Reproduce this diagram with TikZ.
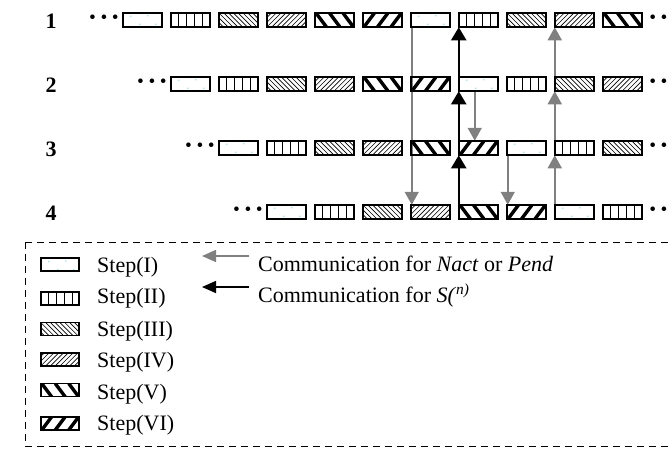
\documentclass[tikz,border=0pt]{standalone}
\usepackage{fontspec}
\setmainfont{Liberation Serif}
\usetikzlibrary{arrows.meta,backgrounds}
\definecolor{arrgray}{HTML}{808080}
\definecolor{dotcyan}{HTML}{A8E0E8}
\begin{document}
\begin{tikzpicture}[x=1pt,y=-1pt,
  font=\fontsize{22}{26}\selectfont,
  cell/.style={draw, line width=1.7pt, minimum width=39.5pt, minimum height=14.5pt, inner sep=0pt, outer sep=0pt},
  st1/.style={cell, path picture={\foreach \dx/\dy in {8/3.5,25/3,17/11.5,33/11.5} \fill[dotcyan] ([shift={(\dx pt,-\dy pt)}]path picture bounding box.north west) circle (0.8pt);}},
  st2/.style={cell, path picture={\foreach \k in {1,...,4} \draw[line width=1.4pt] ([xshift=\k*7.9pt]path picture bounding box.north west) -- ([xshift=\k*7.9pt]path picture bounding box.south west);}},
  st3/.style={cell, path picture={\foreach \k in {-4,...,9} \draw[line width=0.65pt] ([xshift=\k*4.8pt]path picture bounding box.north west) -- ++(16pt,-16pt);}},
  st4/.style={cell, path picture={\foreach \k in {-4,...,9} \draw[line width=0.65pt] ([xshift=\k*4.8pt]path picture bounding box.south west) -- ++(16pt,16pt);}},
  st5/.style={cell, path picture={\foreach \k in {-1,...,3} \draw[line width=3.4pt] ([xshift=\k*13.5pt+1pt]path picture bounding box.north west) -- ++(12pt,-16pt);}},
  st6/.style={cell, path picture={\foreach \k in {-1,...,3} \draw[line width=3.4pt] ([xshift=\k*13.5pt+1pt]path picture bounding box.south west) -- ++(12pt,16pt);}},
  lgcell/.style={minimum width=38.5pt, minimum height=13pt},
  garrow/.style={draw=arrgray, line width=1.8pt, -{Triangle[width=14pt,length=13pt]}},
  barrow/.style={draw=black, line width=2.2pt, -{Triangle[width=15pt,length=13pt]}},
  lgarrow/.style={line width=1.6pt, -{Triangle[width=12pt,length=14pt]}},
  dotstxt/.style={anchor=base, inner sep=0pt, font=\fontsize{28}{30}\selectfont\bfseries},
  rowlbl/.style={anchor=base, inner sep=0pt, font=\fontsize{22}{26}\selectfont\bfseries},
  lgtxt/.style={anchor=base west, inner sep=0pt},
  frame/.style={draw, line width=1pt, dash pattern=on 7pt off 5pt}
]
\useasboundingbox (0,0) rectangle (668,448);

% rows of step boxes
\foreach \r in {1,...,4} {
  \pgfmathtruncatemacro\cstart{\r-1}
  \foreach \c in {\cstart,...,10} {
    \pgfmathtruncatemacro\t{mod(\c-\r+1,6)+1}
    \node[st\t] (b\r-\c) at ({142.5+48*\c},{20+64*(\r-1)}) {};
  }
}

% row labels
\node[rowlbl] (r1) at (51,28.3) {1};
\node[rowlbl] (r2) at (51,92.3) {2};
\node[rowlbl] (r3) at (51,156.3) {3};
\node[rowlbl] (r4) at (51,220.3) {4};

% dots
\node[dotstxt] (dl1) at (104,26.4) {·\kern2pt·\kern2pt·};
\node[dotstxt] (dl2) at (152,90.4) {·\kern2pt·\kern2pt·};
\node[dotstxt] (dl3) at (200,154.4) {·\kern2pt·\kern2pt·};
\node[dotstxt] (dl4) at (248,218.4) {·\kern2pt·\kern2pt·};
\node[dotstxt] (dr1) at (664,26.4) {·\kern2pt·\kern2pt·};
\node[dotstxt] (dr2) at (664,90.4) {·\kern2pt·\kern2pt·};
\node[dotstxt] (dr3) at (664,154.4) {·\kern2pt·\kern2pt·};
\node[dotstxt] (dr4) at (664,218.4) {·\kern2pt·\kern2pt·};

% communication arrows
\begin{scope}[on background layer]
  \draw[garrow] ([xshift=1pt]b1-6.south west) -- ([xshift=1pt]b4-6.north west);
  \draw[barrow] (b4-7.north west) -- (b3-7.south west);
  \draw[barrow] (b3-7.north west) -- (b2-7.south west);
  \draw[barrow] (b2-7.north west) -- (b1-7.south west);
  \draw[garrow] ([xshift=16pt]b2-7.south west) -- ([xshift=16pt]b3-7.north west);
  \draw[garrow] ([xshift=1pt]b3-8.south west) -- ([xshift=1pt]b4-8.north west);
  \draw[garrow] (b4-9.north west) -- (b3-9.south west);
  \draw[garrow] (b3-9.north west) -- (b2-9.south west);
  \draw[garrow] (b2-9.north west) -- (b1-9.south west);
\end{scope}

% legend frame
\draw[frame] (25,242) rectangle (700,446.5);

% legend boxes and texts
\node[st1, lgcell] (lg1) at (60,264.5) {};
\node[st2, lgcell] (lg2) at (60,298.5) {};
\node[st3, lgcell] (lg3) at (60,329) {};
\node[st4, lgcell] (lg4) at (60,359.5) {};
\node[st5, lgcell] (lg5) at (60,390) {};
\node[st6, lgcell] (lg6) at (60,423.5) {};
\node[lgtxt] (lt1) at (97,272) {Step(I)};
\node[lgtxt] (lt2) at (97,303.5) {Step(II)};
\node[lgtxt] (lt3) at (97,336) {Step(III)};
\node[lgtxt] (lt4) at (97,367) {Step(IV)};
\node[lgtxt] (lt5) at (97,399) {Step(V)};
\node[lgtxt] (lt6) at (97,430) {Step(VI)};

\node[lgtxt] (ct1) at (258,271) {Communication for \textit{Nact} or \textit{Pend}};
\node[lgtxt] (ct2) at (258,302) {Communication for \textit{S(}\textsuperscript{\textit{n)}}};
\coordinate (ga1) at (249,256);
\coordinate (ga2) at (202,256);
\coordinate (ba1) at (249,287);
\coordinate (ba2) at (202,287);
\draw[lgarrow, draw=arrgray] (ga1) -- (ga2);
\draw[lgarrow, draw=black] (ba1) -- (ba2);
\end{tikzpicture}
\end{document}
